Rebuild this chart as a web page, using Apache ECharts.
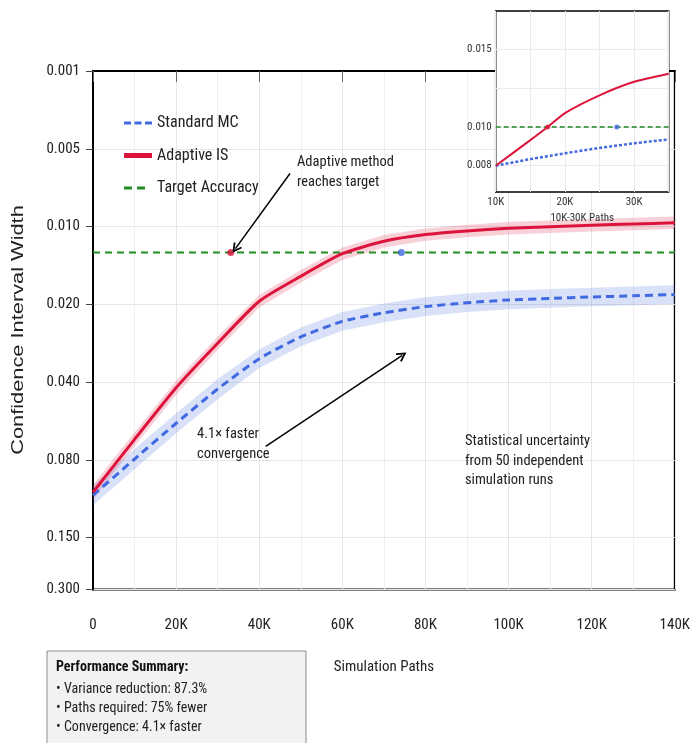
<!DOCTYPE html>
<html>
<head>
<meta charset="utf-8">
<script src="https://cdn.jsdelivr.net/npm/echarts@6.0.0/dist/echarts.min.js"></script>
<style>html,body{margin:0;padding:0;background:#fff;}#c{width:693px;height:743px;}</style>
</head>
<body>
<div id="c"></div>
<script>
// ---------- data (y values are positions on the chart's custom tick scale) ----------
const paths = [0,10000,20000,30000,40000,50000,60000,70000,80000,90000,100000,110000,120000,130000,140000];
const standardMC = [5.456,4.990,4.530,4.090,3.700,3.420,3.220,3.110,3.030,2.980,2.945,2.925,2.906,2.891,2.875];
const adaptiveIS = [5.417,4.737,4.073,3.501,2.961,2.640,2.350,2.190,2.104,2.057,2.023,2.003,1.984,1.967,1.952];
const standardHalfBand = [0.13,0.13,0.13,0.13,0.12,0.12,0.12,0.12,0.12,0.12,0.12,0.12,0.12,0.12,0.12];
const adaptiveHalfBand = [0.09,0.09,0.09,0.085,0.08,0.08,0.08,0.08,0.08,0.08,0.08,0.08,0.08,0.08,0.08];
const targetLevel = 2.333;
const targetXRange = [0,140000];
const adaptiveMarker = [33150, 2.333];
const standardMarker = [74200, 2.333];
const yTickPositions = [0,1,2,3,4,5,6,6.668];
const yTickLabels = ['0.001','0.005','0.010','0.020','0.040','0.080','0.150','0.300'];

// inset
const insetPaths = [10000,15000,17500,20000,25000,30000,35000];
const insetAdaptive = [0,0.66,1.0,1.36,1.82,2.17,2.38];
const insetStandard = [0,0.17,0.245,0.32,0.46,0.58,0.68];
const insetTarget = 1;
const insetAdaptiveMarker = [17500, 1];
const insetStandardMarker = [27500, 1];
const insetYTickPositions = [0,1,2,3];
const insetYTickLabels = ['0.008','0.010','','0.015'];

// annotation arrows (data coords)
const arrows = [
  [[47400,1.319],[34270,2.284]],
  [[41570,4.826],[74410,3.656]]
];

const NARROW = "'Liberation Sans Narrow','Roboto Condensed','Arial Narrow',sans-serif";
const RED = '#dc143c', BLUE = '#4169e1', GREEN = '#228b22';

function pairs(xs, ys){ return xs.map((x,i)=>[x, ys[i]]); }
const stdLower = standardMC.map((v,i)=>v - standardHalfBand[i]);
const stdUpper = standardMC.map((v,i)=>v + standardHalfBand[i]);
const adLower = adaptiveIS.map((v,i)=>v - adaptiveHalfBand[i]);
const adUpper = adaptiveIS.map((v,i)=>v + adaptiveHalfBand[i]);

function tickLabel(positions, labels){
  return function(v){
    for (let i=0;i<positions.length;i++) if (Math.abs(positions[i]-v)<1e-6) return labels[i];
    return '';
  };
}

function bandSeries(name, lower, upper, color){
  return {
    name: name, type: 'custom', xAxisIndex: 0, yAxisIndex: 0, silent: true, z: 1, clip: true,
    data: paths.map((x,i)=>[x, lower[i], upper[i]]),
    encode: { x: 0, y: [1,2] },
    renderItem: function(params, api){
      if (params.dataIndex !== 0) return null;
      const pts = [];
      for (let i=0;i<paths.length;i++) pts.push(api.coord([paths[i], upper[i]]));
      for (let i=paths.length-1;i>=0;i--) pts.push(api.coord([paths[i], lower[i]]));
      return { type: 'polygon', shape: { points: pts }, style: { fill: color } };
    }
  };
}

const chevron = 'path://M5,0 L10,9 L8.6,10 L5,3.6 L1.4,10 L0,9 Z';
const iconDashedBlue = 'path://M0,0h7v3h-7z M10.5,0h7v3h-7z M21,0h7v3h-7z';
const iconSolidRed = 'path://M0,0h28v5h-28z';
const iconDashedGreen = 'path://M0,0h8v3h-8z M13,0h8v3h-8z M28,1.5L28,1.5';

const option = {
  animation: false,
  backgroundColor: '#fff',
  textStyle: { fontFamily: NARROW },
  grid: [
    { left: 93, top: 71, right: 13, bottom: 153.5, show: true, borderColor: '#000', borderWidth: 2, z: 0 },
    { left: 495.7, top: 11, width: 173, height: 181, show: true, borderColor: '#000', borderWidth: 1.5, backgroundColor: '#fff', z: 10 }
  ],
  legend: {
    data: [
      { name: 'Standard MC', icon: iconDashedBlue },
      { name: 'Adaptive IS', icon: iconSolidRed },
      { name: 'Target Accuracy', icon: iconDashedGreen }
    ],
    orient: 'vertical', left: 119, top: 110,
    itemWidth: 28, itemHeight: 14, itemGap: 16.5,
    textStyle: { fontFamily: NARROW, fontSize: 16, color: '#222' }
  },
  xAxis: [
    { type: 'value', gridIndex: 0, min: 0, max: 140000, interval: 20000,
      name: 'Simulation Paths', nameLocation: 'middle', nameGap: 70,
      nameTextStyle: { fontFamily: NARROW, fontSize: 15, color: '#222' },
      axisLine: { show: true, lineStyle: { color: '#000', width: 2 } },
      axisTick: { show: true, length: 11, lineStyle: { color: '#666', width: 1 } },
      axisLabel: { margin: 28, fontFamily: NARROW, fontSize: 15, color: '#222',
        formatter: v => v === 0 ? '0' : (v/1000) + 'K' },
      splitLine: { show: true, lineStyle: { color: '#e6e6e6', width: 1 } },
      minorTick: { show: false, splitNumber: 2 },
      minorSplitLine: { show: true, lineStyle: { color: '#efefef', width: 1 } }
    },
    { type: 'value', gridIndex: 1, min: 10000, max: 35000, interval: 5000, z: 11,
      name: '10K-30K Paths', nameLocation: 'middle', nameGap: 21,
      nameTextStyle: { fontFamily: NARROW, fontSize: 11, color: '#333' },
      axisLine: { show: false }, axisTick: { show: false },
      axisLabel: { margin: 5, fontFamily: NARROW, fontSize: 11, color: '#333',
        showMinLabel: true, showMaxLabel: true,
        formatter: v => (v % 10000 === 0 && v < 35000) ? (v/1000)+'K' : '' },
      splitLine: { show: true, lineStyle: { color: '#ebebeb', width: 1 } }
    }
  ],
  yAxis: [
    { type: 'value', gridIndex: 0, min: 0, max: 6.668, inverse: true,
      axisLine: { show: true, lineStyle: { color: '#000', width: 2 } },
      axisTick: { show: true, length: 7, customValues: yTickPositions, lineStyle: { color: '#444', width: 1 } },
      axisLabel: { margin: 13, fontFamily: NARROW, fontSize: 15, color: '#222', customValues: yTickPositions,
        formatter: tickLabel(yTickPositions, yTickLabels) },
      splitLine: { show: true, lineStyle: { color: '#e6e6e6', width: 1 } }
    },
    { type: 'value', gridIndex: 1, min: -0.68, max: 4, z: 11,
      axisLine: { show: false },
      axisTick: { show: false, customValues: insetYTickPositions },
      axisLabel: { margin: 4, fontFamily: NARROW, fontSize: 11, color: '#333', customValues: insetYTickPositions,
        formatter: tickLabel(insetYTickPositions, insetYTickLabels) },
      splitLine: { show: true, lineStyle: { color: '#ebebeb', width: 1 } }
    }
  ],
  series: [
    bandSeries('stdBand', stdLower, stdUpper, 'rgba(65,105,225,0.2)'),
    bandSeries('adBand', adLower, adUpper, 'rgba(220,20,60,0.2)'),
    // target
    { name: 'Target Accuracy', type: 'line', xAxisIndex: 0, yAxisIndex: 0,
      data: targetXRange.map(x => [x, targetLevel]), symbol: 'none',
      itemStyle: { color: GREEN }, lineStyle: { color: GREEN, width: 2, type: [7,5] }, z: 2 },
    // main lines
    { name: 'Standard MC', type: 'line', xAxisIndex: 0, yAxisIndex: 0, data: pairs(paths, standardMC),
      symbol: 'none', smooth: 0.2, itemStyle: { color: BLUE }, lineStyle: { color: BLUE, width: 3, type: [8,5] }, z: 3 },
    { name: 'Adaptive IS', type: 'line', xAxisIndex: 0, yAxisIndex: 0, data: pairs(paths, adaptiveIS),
      symbol: 'none', smooth: 0.2, itemStyle: { color: RED }, lineStyle: { color: RED, width: 3 }, z: 3 },
    // markers
    { name: 'markers', type: 'scatter', xAxisIndex: 0, yAxisIndex: 0, symbolSize: 7, z: 4,
      data: [ { value: adaptiveMarker, itemStyle: { color: RED } }, { value: standardMarker, itemStyle: { color: BLUE } } ] },
    // arrows
    { name: 'arrows', type: 'line', xAxisIndex: 0, yAxisIndex: 0, data: [], z: 5,
      markLine: { silent: true, symbol: ['none', chevron], symbolSize: [10, 10],
        lineStyle: { color: '#000', width: 1.5, type: 'solid' }, label: { show: false },
        data: arrows.map(a => [{ coord: a[0] }, { coord: a[1] }]) } },
    // inset
    { name: 'insetTarget', type: 'line', xAxisIndex: 1, yAxisIndex: 1, z: 12,
      data: [[10000, insetTarget],[35000, insetTarget]], symbol: 'none',
      lineStyle: { color: GREEN, width: 1.5, type: [5,3] } },
    { name: 'insetStd', type: 'line', xAxisIndex: 1, yAxisIndex: 1, z: 12,
      data: pairs(insetPaths, insetStandard), symbol: 'none',
      lineStyle: { color: BLUE, width: 2.5, type: [3,2] } },
    { name: 'insetAd', type: 'line', xAxisIndex: 1, yAxisIndex: 1, z: 12,
      data: pairs(insetPaths, insetAdaptive), symbol: 'none', smooth: 0.2,
      lineStyle: { color: RED, width: 2 } },
    { name: 'insetMarkers', type: 'scatter', xAxisIndex: 1, yAxisIndex: 1, symbolSize: 5, z: 13,
      data: [ { value: insetAdaptiveMarker, itemStyle: { color: RED } }, { value: insetStandardMarker, itemStyle: { color: BLUE } } ] }
  ],
  graphic: [
    { type: 'text', x: 18, y: 330, rotation: Math.PI/2, scaleY: 0.75, z: 20,
      style: { text: 'Confidence Interval Width', font: "21.8px 'Liberation Sans', Arial, sans-serif",
        fill: '#222', textAlign: 'center', textVerticalAlign: 'middle' } },
    { type: 'text', x: 297, y: 153, z: 20,
      style: { text: 'Adaptive method\nreaches target', font: "14.5px " + NARROW, lineHeight: 19.5, fill: '#222' } },
    { type: 'text', x: 197, y: 425, z: 20,
      style: { text: '4.1× faster\nconvergence', font: "14.5px " + NARROW, lineHeight: 19.5, fill: '#222' } },
    { type: 'text', x: 465, y: 432, z: 20,
      style: { text: 'Statistical uncertainty\nfrom 50 independent\nsimulation runs', font: "14.5px " + NARROW, lineHeight: 19.5, fill: '#222' } },
    { type: 'rect', shape: { x: 47, y: 651, width: 259, height: 110 }, z: 20,
      style: { fill: '#f2f2f2', stroke: '#8c8c8c', lineWidth: 1 } },
    { type: 'text', x: 56, y: 667, z: 21,
      style: { text: 'Performance Summary:', font: "bold 14px " + NARROW, fill: '#111', textVerticalAlign: 'middle' } },
    { type: 'text', x: 56, y: 689.3, z: 21,
      style: { text: '• Variance reduction: 87.3%', font: "14px " + NARROW, fill: '#222', textVerticalAlign: 'middle' } },
    { type: 'text', x: 56, y: 708.3, z: 21,
      style: { text: '• Paths required: 75% fewer', font: "14px " + NARROW, fill: '#222', textVerticalAlign: 'middle' } },
    { type: 'text', x: 56, y: 727.3, z: 21,
      style: { text: '• Convergence: 4.1× faster', font: "14px " + NARROW, fill: '#222', textVerticalAlign: 'middle' } }
  ]
};

const chart = echarts.init(document.getElementById('c'), null, { renderer: 'canvas' });
chart.setOption(option);
</script>
</body>
</html>
